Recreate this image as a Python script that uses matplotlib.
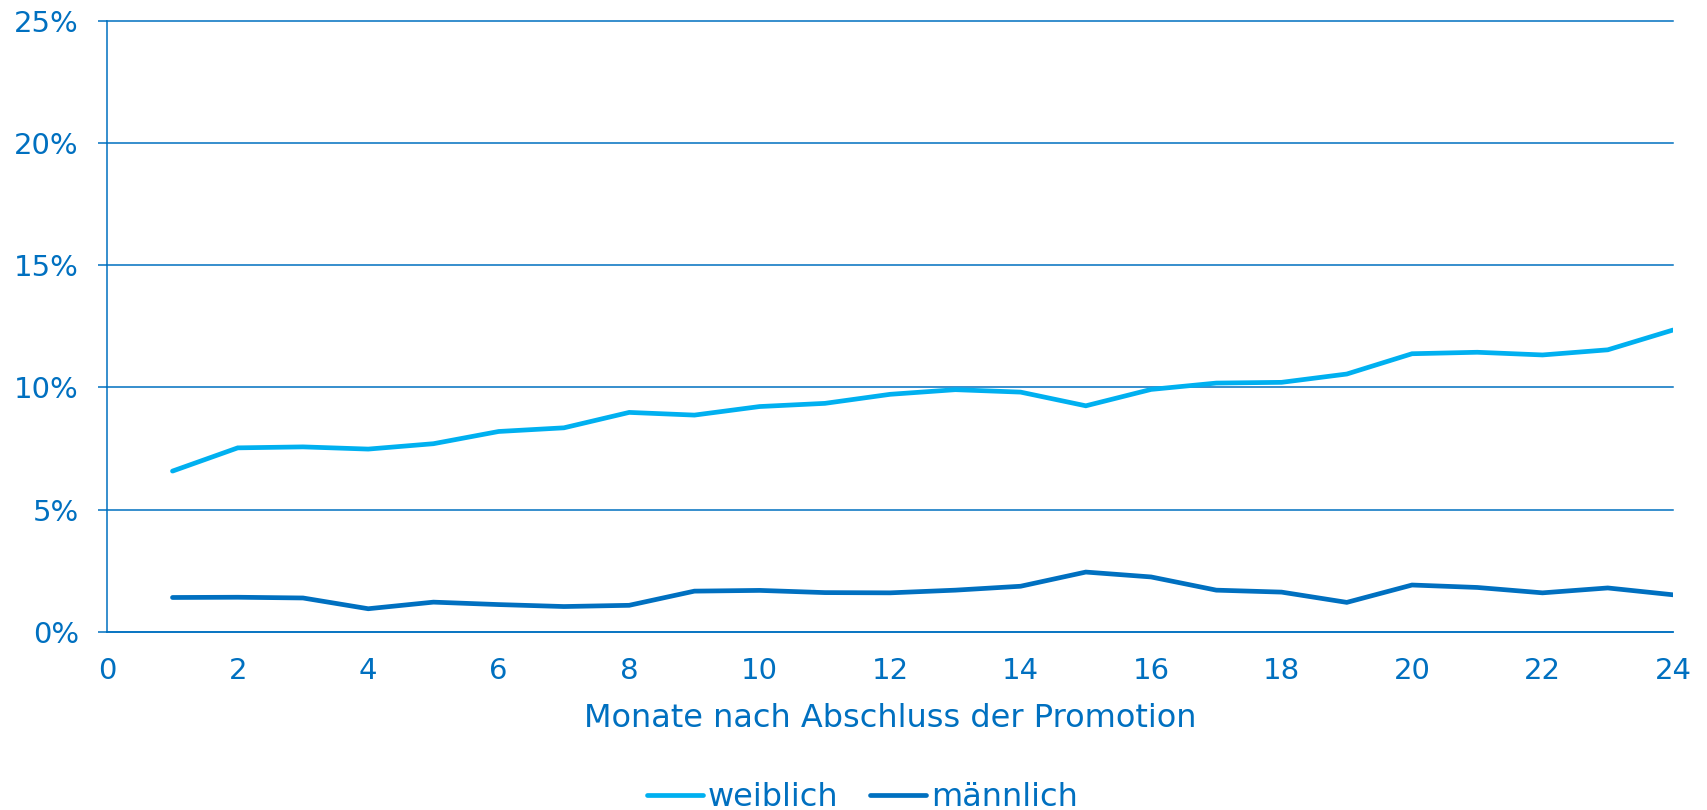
import numpy as np
import matplotlib
matplotlib.use("Agg")
import matplotlib.pyplot as plt
from matplotlib.ticker import PercentFormatter

# Anteil je Monat nach Abschluss der Promotion (in %)
monate = list(range(1, 25))
weiblich = [6.58, 7.53, 7.57, 7.48, 7.70, 8.20, 8.35, 8.98, 8.87, 9.22, 9.35, 9.72,
            9.91, 9.81, 9.25, 9.92, 10.18, 10.21, 10.55, 11.38, 11.44, 11.33, 11.54, 12.35]
maennlich = [1.41, 1.42, 1.39, 0.95, 1.22, 1.12, 1.04, 1.09, 1.67, 1.70, 1.61, 1.60,
             1.71, 1.87, 2.45, 2.25, 1.71, 1.63, 1.21, 1.92, 1.82, 1.60, 1.80, 1.52]

C_LIGHT, C_DARK = "#00B0F0", "#0070C0"
plt.rcParams["font.family"] = ["DejaVu Sans"]
plt.rcParams["font.size"] = 21

fig = plt.figure(figsize=(17.08, 8.10), dpi=100)
ax = fig.add_axes([0.0628, 0.2198, 0.9167, 0.7546])

ax.plot(monate, weiblich, color=C_LIGHT, lw=3.4, solid_capstyle="round",
        solid_joinstyle="miter", label="weiblich", zorder=3)
ax.plot(monate, maennlich, color=C_DARK, lw=3.4, solid_capstyle="round",
        solid_joinstyle="miter", label="männlich", zorder=3)

ax.set_xlim(0, 24); ax.set_ylim(0, 25)
ax.set_xticks(range(0, 25, 2)); ax.set_yticks(range(0, 26, 5))
ax.yaxis.set_major_formatter(PercentFormatter(decimals=0))
ax.grid(axis="y", color=C_DARK, lw=1.1); ax.set_axisbelow(True)
for g in ax.get_ygridlines():
    g.set_clip_on(False)
for s in ("top", "right"):
    ax.spines[s].set_visible(False)
for s in ("left", "bottom"):
    ax.spines[s].set_color(C_DARK); ax.spines[s].set_linewidth(1.1)
ax.tick_params(axis="y", length=6.5, width=1.1, color=C_DARK, labelcolor=C_DARK, pad=14)
ax.tick_params(axis="x", length=0, labelcolor=C_DARK, pad=18)
ax.set_xlabel("Monate nach Abschluss der Promotion", color=C_DARK, fontsize=23, labelpad=13)

fig.legend(loc="lower center", bbox_to_anchor=(0.505, -0.039), ncol=2, frameon=False,
           fontsize=23, handlelength=1.75, handletextpad=0.15, columnspacing=1.0,
           labelcolor=C_DARK)

fig.savefig("out.png", dpi=100)
